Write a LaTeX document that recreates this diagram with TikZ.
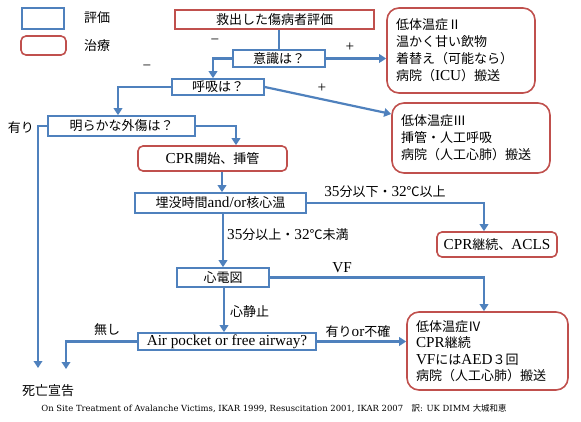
\documentclass[tikz,border=0pt]{standalone}
\usepackage{fontspec}
\setmainfont[Scale=1.17]{Liberation Serif}
\newfontfamily\cjk{Noto Sans CJK JP}
\newfontfamily\citefont{DejaVu Serif}
\usetikzlibrary{arrows.meta}
\newcommand\J[1]{{\cjk #1}}
\definecolor{evblue}{RGB}{79,129,189}
\definecolor{trred}{RGB}{192,80,77}
\begin{document}
\begin{tikzpicture}[x=1pt,y=-1pt,
  font=\fontsize{13}{17}\selectfont,
  evalbox/.style={draw=evblue,line width=1.6pt,fill=white,inner sep=0pt,rectangle},
  treatbox/.style={draw=trred,line width=1.6pt,fill=white,inner sep=0pt,rounded corners=5pt},
  bigtreat/.style={draw=trred,line width=1.6pt,fill=white,rounded corners=12pt,align=left,inner xsep=9pt,inner ysep=0pt},
  conn/.style={draw=evblue,line width=2.2pt,-{Triangle[length=7pt,width=8.5pt]}},
  plainline/.style={draw=evblue,line width=2.2pt},
  lbl/.style={inner sep=0pt}]
\fill[white] (0,0) rectangle (581,422);
\useasboundingbox (0,0) rectangle (581,422);

% legend
\node[evalbox,minimum width=42pt,minimum height=21pt] (legE) at (43,18.5) {};
\node[lbl] (legEt) at (97,18) {\J{評価}};
\node[treatbox,minimum width=45pt,minimum height=19pt] (legT) at (43.5,45.5) {};
\node[lbl] (legTt) at (97,46) {\J{治療}};

% nodes
\node[treatbox,rounded corners=0pt,minimum width=199pt,minimum height=19pt] (title) at (274.5,19.5) {\J{救出した傷病者評価}};
\node[evalbox,minimum width=92pt,minimum height=17pt] (ishiki) at (279,58.5) {\J{意識は？}};
\node[bigtreat,minimum width=148pt,minimum height=85pt,text width=130pt] (boxII) at (461,50.5)
  {\J{低体温症Ⅱ}\\\J{温かく甘い飲物}\\\J{着替え（可能なら）}\\\J{病院（}ICU\J{）搬送}};
\node[evalbox,minimum width=92pt,minimum height=16pt] (kokyu) at (218,87) {\J{呼吸は？}};
\node[bigtreat,minimum width=158pt,minimum height=70pt,text width=140pt] (boxIII) at (471,138)
  {\J{低体温症Ⅲ}\\\J{挿管・人工呼吸}\\\J{病院（人工心肺）搬送}};
\node[evalbox,minimum width=147pt,minimum height=20pt] (gaisho) at (121.5,126) {\J{明らかな外傷は？}};
\node[treatbox,minimum width=149pt,minimum height=25pt] (cpr) at (212.5,158.5) {CPR\J{開始、挿管}};
\node[evalbox,minimum width=171pt,minimum height=20pt] (maibotsu) at (220.5,203) {\J{埋没時間}and/or\J{核心温}};
\node[treatbox,minimum width=120pt,minimum height=25pt] (acls) at (497,244.5) {CPR\J{継続、}ACLS};
\node[evalbox,minimum width=92pt,minimum height=19pt] (ecg) at (223,277.5) {\J{心電図}};
\node[evalbox,minimum width=178pt,minimum height=17pt] (air) at (227,341.5) {Air pocket or free airway?};
\node[bigtreat,minimum width=161pt,minimum height=78pt,text width=143pt,font=\fontsize{13}{16.4}\selectfont] (boxIV) at (487.5,351)
  {\J{低体温症Ⅳ}\\CPR\J{継続}\\VF\J{には}AED\J{３回}\\\J{病院（人工心肺）搬送}};
\node[lbl] (death) at (48,391) {\J{死亡宣告}};
\coordinate (d1) at (38,368);
\coordinate (d2) at (66,369);

% connectors
\draw[plainline] (ishiki.north |- title.south) -- (ishiki.north);
\draw[conn] (ishiki.east) -- (ishiki.east -| boxII.west);
\draw[conn] (ishiki.west) -| ([xshift=-5pt]kokyu.north);
\draw[conn] (kokyu.west) -| ([xshift=-3.5pt]gaisho.north);
\draw[conn] (kokyu.east) -- ([yshift=24pt]boxIII.west);
\draw[conn] (gaisho.east) -| ([xshift=23.5pt]cpr.north);
\draw[conn] (gaisho.west) -| (d1);
\draw[conn] ([xshift=1.5pt]maibotsu.north |- cpr.south) -- ([xshift=1.5pt]maibotsu.north);
\draw[conn] (maibotsu.east) -| ([xshift=-13pt]acls.north);
\draw[conn] (ecg.north |- maibotsu.south) -- (ecg.north);
\draw[conn] (ecg.east) -| ([xshift=-3.5pt]boxIV.north);
\draw[conn] ([xshift=1pt]ecg.south) -- ([xshift=1pt]ecg.south |- air.north);
\draw[conn] (air.west) -| (d2);
\draw[conn] (air.east) -- (air.east -| boxIV.west);

% labels
\node[lbl] (m1) at (215,42) {−};
\node[lbl] (p1) at (350,47) {+};
\node[lbl] (m2) at (147,68) {−};
\node[lbl] (p2) at (322,88) {+};
\node[lbl] (ari) at (21,128) {\J{有り}};
\node[lbl] (l35a) at (385,192) {35\J{分以下・}32\J{℃以上}};
\node[lbl,anchor=west] (l35b) at (227,235) {35\J{分以上・}32\J{℃未満}};
\node[lbl] (vf) at (342,268) {VF};
\node[lbl,anchor=west] (asys) at (230,312) {\J{心静止}};
\node[lbl] (nashi) at (107,330) {\J{無し}};
\node[lbl] (arior) at (358,332) {\J{有り}or\J{不確}};
\node[lbl,font=\citefont\fontsize{8.45}{10}\selectfont] (cite) at (274,409)
  {On Site Treatment of Avalanche Victims, IKAR 1999, Resuscitation 2001, IKAR 2007\quad\J{訳}: UK DIMM \J{大城和恵}};
\end{tikzpicture}
\end{document}
